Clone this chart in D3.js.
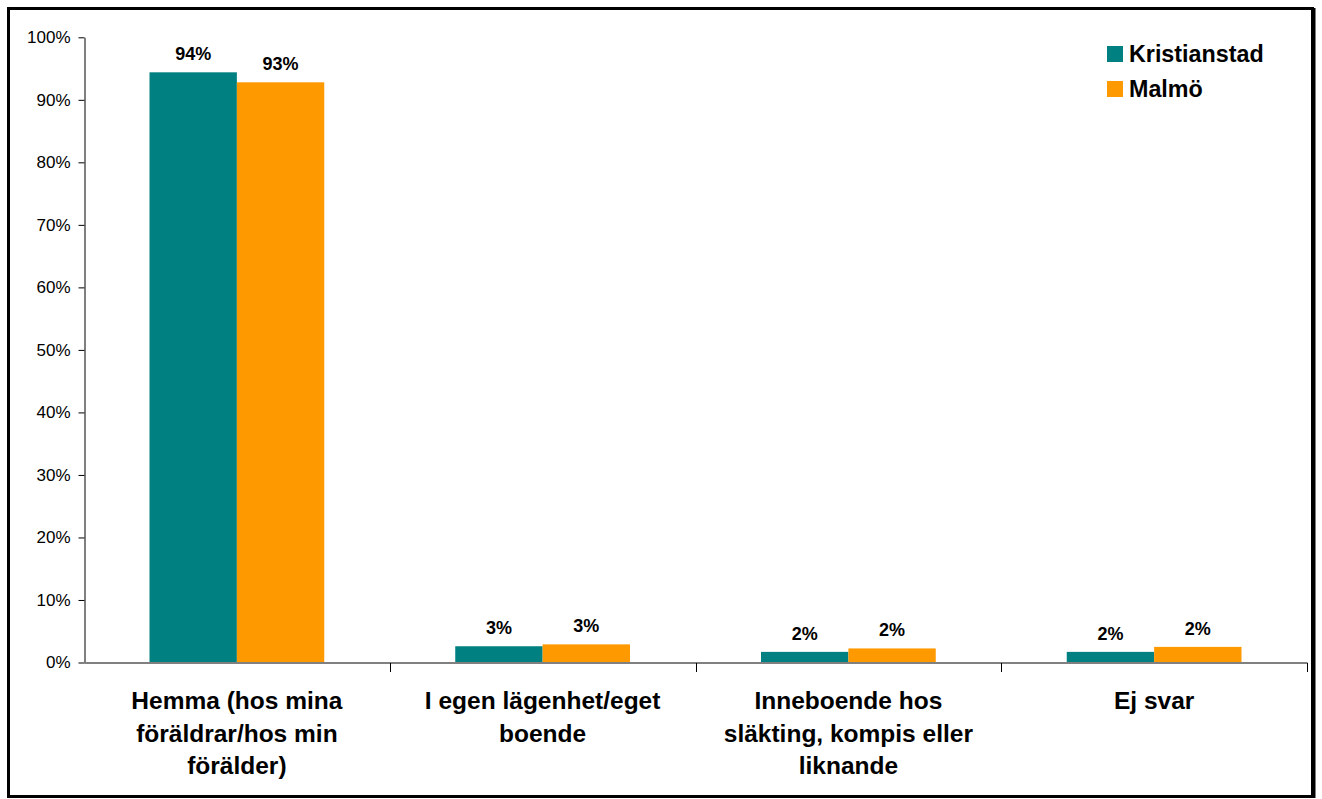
<!DOCTYPE html>
<html><head><meta charset="utf-8">
<script src="https://cdn.jsdelivr.net/npm/d3@7/dist/d3.min.js"></script>
<style>body{margin:0;background:#fff;} svg{display:block;font-family:"Liberation Sans",Arial,sans-serif;}</style>
</head><body><svg id="c" width="1322" height="799"></svg>
<script>
const categories = [
  ["Hemma (hos mina", "föräldrar/hos min", "förälder)"],
  ["I egen lägenhet/eget", "boende"],
  ["Inneboende hos", "släkting, kompis eller", "liknande"],
  ["Ej svar"]
];
const seriesNames = ["Kristianstad", "Malmö"];
const kristianstad = [0.944, 0.026, 0.017, 0.017];
const malmo = [0.928, 0.029, 0.0225, 0.025];
const valueLabels = [["94%", "3%", "2%", "2%"], ["93%", "3%", "2%", "2%"]];
const yTicks = [0, 0.1, 0.2, 0.3, 0.4, 0.5, 0.6, 0.7, 0.8, 0.9, 1.0];
const colors = ["#008080", "#FF9900"];

const svg = d3.select("#c");
const catIdx = categories.map((d, i) => i);
const x0 = d3.scaleBand().domain(catIdx).range([84, 1307]).padding(0);
const x1 = d3.scaleBand().domain([0, 1]).range([65.5, x0.bandwidth() - 65.5]).padding(0);
const y = d3.scaleLinear().domain([0, 1]).range([662.5, 37.3]);

// frame
svg.append("rect").attr("x", 8.5).attr("y", 8.5).attr("width", 1304).attr("height", 788)
  .attr("fill", "none").attr("stroke", "#000").attr("stroke-width", 3);
svg.append("line").attr("x1", 1314.5).attr("x2", 1314.5).attr("y1", 8).attr("y2", 798).attr("stroke", "#000").attr("stroke-width", 2);

// y axis
const yAxis = d3.axisLeft(y).tickValues(yTicks).tickFormat(d3.format(".0%")).tickSizeOuter(0).tickSizeInner(6).tickPadding(8);
const gy = svg.append("g").attr("transform", "translate(84.5,0)").call(yAxis);
gy.select(".domain").attr("stroke", "#000");
gy.selectAll(".tick line").attr("stroke", "#000");
gy.selectAll(".tick text").attr("font-size", 17).attr("fill", "#000").attr("font-family", "Liberation Sans, Arial, sans-serif");

const series = [kristianstad, malmo];
series.forEach((vals, s) => {
  svg.append("g").selectAll("rect").data(vals).join("rect")
    .attr("x", (d, i) => x0(i) + x1(s))
    .attr("width", x1.bandwidth())
    .attr("y", d => y(d))
    .attr("height", d => y(0) - y(d))
    .attr("fill", colors[s]);
  svg.append("g").selectAll("text").data(vals).join("text")
    .attr("x", (d, i) => x0(i) + x1(s) + x1.bandwidth() / 2)
    .attr("y", d => y(d) - 12)
    .attr("text-anchor", "middle").attr("font-size", 18).attr("font-weight", "bold")
    .text((d, i) => valueLabels[s][i]);
});

// x axis
const xAxis = d3.axisBottom(x0).tickValues([]).tickSizeOuter(0);
const gx = svg.append("g").attr("transform", "translate(0,662.5)").call(xAxis);
gx.select(".domain").attr("stroke", "#808080").attr("stroke-width", 2);
const bounds = d3.range(1, categories.length + 1).map(i => x0(i - 1) + x0.bandwidth());
svg.append("g").selectAll("line").data(bounds).join("line")
  .attr("x1", d => Math.round(d) + 0.5).attr("x2", d => Math.round(d) + 0.5)
  .attr("y1", 663).attr("y2", 672).attr("stroke", "#000");

// category labels
categories.forEach((lines, i) => {
  const t = svg.append("text").attr("text-anchor", "middle").attr("font-size", 24.5).attr("font-weight", "bold")
    .attr("x", x0(i) + x0.bandwidth() / 2).attr("y", 708);
  lines.forEach((l, j) => t.append("tspan").attr("x", x0(i) + x0.bandwidth() / 2).attr("y", 709 + j * 32.5).text(l));
});

// legend
const lg = svg.append("g");
seriesNames.forEach((n, i) => {
  lg.append("rect").attr("x", 1107).attr("y", 46 + i * 35).attr("width", 16).attr("height", 16).attr("fill", colors[i]);
  lg.append("text").attr("x", 1129).attr("y", 62 + i * 35).attr("font-size", 23.3).attr("font-weight", "bold").text(n);
});
</script></body></html>
